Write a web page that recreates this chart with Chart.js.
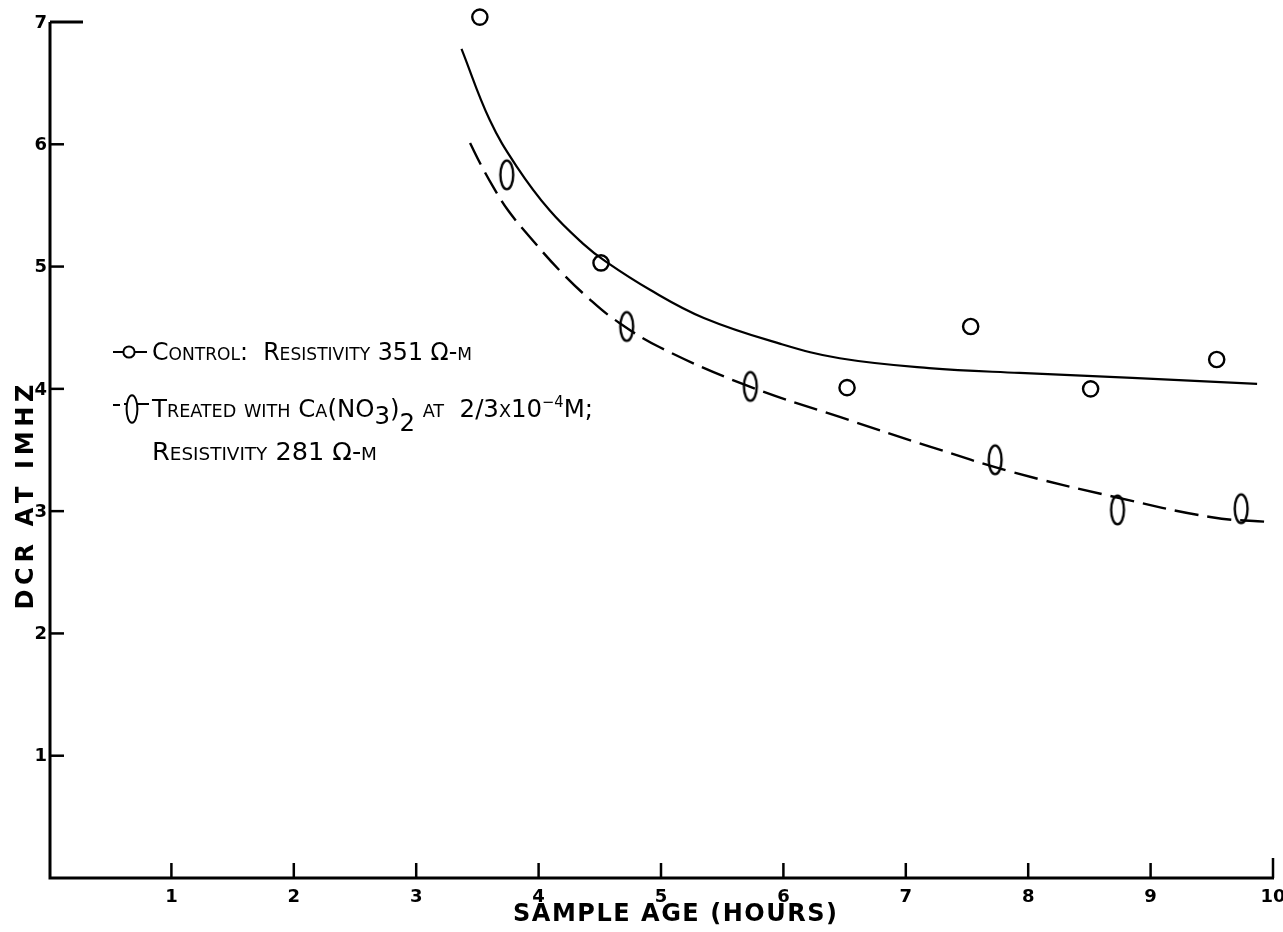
<!DOCTYPE html>
<html>
<head>
<meta charset="utf-8">
<title>DCR vs sample age</title>
<script src="https://cdn.jsdelivr.net/npm/chart.js@4.4.1/dist/chart.umd.min.js"></script>
<style>
  html, body { margin: 0; padding: 0; background: #fff; }
  canvas { display: block; }
</style>
</head>
<body>
<canvas id="c" width="1283" height="932"></canvas>
<script>
// Measured points: sample age (hours) vs DCR at 1 MHz
const controlAge = [3.52, 4.51, 6.52, 7.53, 8.51, 9.54];
const controlDcr = [7.04, 5.03, 4.01, 4.51, 4.00, 4.24];
const treatedAge = [3.74, 4.72, 5.73, 7.73, 8.73, 9.74];
const treatedDcr = [5.75, 4.51, 4.02, 3.42, 3.01, 3.02];

// Hand-faired trend curves through each series
const controlCurveAge = [3.37, 3.60, 3.82, 4.09, 4.36, 4.55, 4.91, 5.35, 5.97, 6.46, 7.19, 7.93, 8.85, 9.87];
const controlCurveDcr = [6.78, 6.20, 5.82, 5.46, 5.19, 5.04, 4.81, 4.58, 4.37, 4.25, 4.17, 4.13, 4.09, 4.04];
const treatedCurveAge = [3.44, 3.53, 3.63, 3.75, 3.93, 4.17, 4.42, 4.63, 4.99, 5.72, 6.46, 7.19, 7.87, 8.69, 9.50, 9.99];
const treatedCurveDcr = [6.01, 5.83, 5.65, 5.46, 5.24, 4.97, 4.73, 4.56, 4.34, 4.02, 3.77, 3.53, 3.32, 3.12, 2.95, 2.91];

// Axis ticks and titles
const xTickValues = [1, 2, 3, 4, 5, 6, 7, 8, 9, 10];
const xTickLabels = ['1', '2', '3', '4', '5', '6', '7', '8', '9', '10'];
const yTickValues = [1, 2, 3, 4, 5, 6, 7];
const yTickLabels = ['1', '2', '3', '4', '5', '6', '7'];
const xTitle = 'SAMPLE AGE (HOURS)';
const yTitle = 'DCR AT IMHZ';

// Key text (lower-case letters are set as small capitals)
const keyControl = [['Control:  Resistivity 351 Ω-m']];
const keyTreated = [['Treated with Ca(NO'], ['3', 'sub'], [')'], ['2', 'sub2'], [' at  2/3x10'], ['−4', 'sup'], ['M;']];
const keyTreated2 = [['Resistivity 281 Ω-m']];

const pts = (xs, ys) => xs.map((x, i) => ({ x: x, y: ys[i] }));

// Upright oval marker for the treated series
const oval = document.createElement('canvas');
oval.width = 20; oval.height = 36;
(function () {
  const o = oval.getContext('2d');
  o.lineWidth = 2.4; o.strokeStyle = '#000';
  o.beginPath(); o.ellipse(10, 18, 6.4, 14.4, 0, 0, Math.PI * 2); o.stroke();
})();

const KEY_FONT = "'Liberation Sans Narrow', 'DejaVu Sans Condensed', 'Liberation Sans', sans-serif";
const BOLD_FONT = "'DejaVu Sans', 'Liberation Sans', sans-serif";

function richRuns(segs, cap) {
  const runs = [];
  segs.forEach(([txt, mode]) => {
    if (mode === 'sub') { runs.push({ t: txt, size: cap, dy: 7 }); return; }
    if (mode === 'sub2') { runs.push({ t: txt, size: cap, dy: 14 }); return; }
    if (mode === 'sup') { runs.push({ t: txt, size: cap * 0.6, dy: -10 }); return; }
    let cur = null;
    for (const ch of txt) {
      const small = /[a-z]/.test(ch);
      const size = small ? cap * 0.72 : cap;
      const t = small ? ch.toUpperCase() : ch;
      if (cur && cur.size === size) cur.t += t;
      else { cur = { t: t, size: size, dy: 0 }; runs.push(cur); }
    }
  });
  return runs;
}

function drawRich(ctx, segs, x, baseline, width, cap) {
  const runs = richRuns(segs, cap);
  let total = 0;
  runs.forEach(r => { ctx.font = r.size + 'px ' + KEY_FONT; r.w = ctx.measureText(r.t).width; total += r.w; });
  ctx.save();
  ctx.translate(x, baseline);
  ctx.scale(width / total, 1);
  ctx.textBaseline = 'alphabetic';
  ctx.textAlign = 'left';
  let cx = 0;
  runs.forEach(r => { ctx.font = r.size + 'px ' + KEY_FONT; ctx.fillText(r.t, cx, r.dy); cx += r.w; });
  ctx.restore();
}

function drawSpaced(ctx, text, cx, cy, width, font) {
  ctx.font = font;
  const chars = [...text];
  const ws = chars.map(c => ctx.measureText(c).width);
  const natural = ws.reduce((a, b) => a + b, 0);
  const gap = (width - natural) / (chars.length - 1);
  let x = cx - width / 2;
  ctx.textAlign = 'left';
  ctx.textBaseline = 'middle';
  chars.forEach((c, i) => { ctx.fillText(c, x, cy); x += ws[i] + gap; });
}

const paper = {
  id: 'paper',
  beforeDatasetsDraw(chart) {
    const ctx = chart.ctx, xs = chart.scales.x, ys = chart.scales.y;
    const ax = xs.getPixelForValue(0) + 1;
    const ay = ys.getPixelForValue(0);
    const xEnd = xs.getPixelForValue(10);
    ctx.save();
    ctx.strokeStyle = '#000'; ctx.fillStyle = '#000';
    ctx.lineWidth = 3;
    ctx.beginPath();
    ctx.moveTo(ax, ys.getPixelForValue(7));
    ctx.lineTo(ax, ay);
    ctx.lineTo(xEnd + 1, ay);
    ctx.stroke();
    // y ticks drawn inward; the top one runs longer
    yTickValues.forEach((v, i) => {
      const y = ys.getPixelForValue(v);
      ctx.lineWidth = v === 7 ? 3 : 2.5;
      ctx.beginPath(); ctx.moveTo(ax, y); ctx.lineTo(ax + (v === 7 ? 33 : 14), y); ctx.stroke();
      ctx.font = 'bold 18px ' + BOLD_FONT;
      ctx.textAlign = 'right'; ctx.textBaseline = 'middle';
      ctx.fillText(yTickLabels[i], 47, y + 1);
    });
    xTickValues.forEach((v, i) => {
      const x = xs.getPixelForValue(v);
      ctx.lineWidth = 2.5;
      ctx.beginPath(); ctx.moveTo(x, ay); ctx.lineTo(x, ay - (v === 10 ? 20 : 15)); ctx.stroke();
      ctx.font = 'bold 18px ' + BOLD_FONT;
      ctx.textAlign = 'center'; ctx.textBaseline = 'middle';
      ctx.fillText(xTickLabels[i], x, 897);
    });
    ctx.restore();
  },
  afterDraw(chart) {
    const ctx = chart.ctx;
    ctx.save();
    ctx.fillStyle = '#000'; ctx.strokeStyle = '#000';
    // axis titles
    drawSpaced(ctx, xTitle, 675, 915, 324, 'bold 24px ' + BOLD_FONT);
    ctx.save();
    ctx.translate(27, 497);
    ctx.rotate(-Math.PI / 2);
    drawSpaced(ctx, yTitle, 0, 0, 225, 'bold 24px ' + BOLD_FONT);
    ctx.restore();

    // key: control
    ctx.lineWidth = 2;
    ctx.beginPath(); ctx.moveTo(113, 352); ctx.lineTo(147, 352); ctx.stroke();
    ctx.fillStyle = '#fff';
    ctx.beginPath(); ctx.arc(129, 352, 5.6, 0, Math.PI * 2); ctx.fill(); ctx.stroke();
    ctx.fillStyle = '#000';
    drawRich(ctx, keyControl, 152, 360, 320, 25);

    // key: treated
    ctx.beginPath(); ctx.moveTo(113, 405); ctx.lineTo(120, 405); ctx.stroke();
    ctx.beginPath(); ctx.moveTo(124, 404); ctx.lineTo(149, 404); ctx.stroke();
    ctx.fillStyle = '#fff';
    ctx.beginPath(); ctx.ellipse(132, 409, 5.4, 13.8, 0, 0, Math.PI * 2); ctx.fill(); ctx.stroke();
    ctx.fillStyle = '#000';
    drawRich(ctx, keyTreated, 152, 417, 441, 25);
    drawRich(ctx, keyTreated2, 152, 460, 225, 25);
    ctx.restore();
  }
};

new Chart(document.getElementById('c'), {
  type: 'scatter',
  data: {
    datasets: [
      {
        label: 'Control curve',
        data: pts(controlCurveAge, controlCurveDcr),
        showLine: true, borderColor: '#000', borderWidth: 2.2,
        pointRadius: 0, tension: 0.4, fill: false, clip: false
      },
      {
        label: 'Treated curve',
        data: pts(treatedCurveAge, treatedCurveDcr),
        showLine: true, borderColor: '#000', borderWidth: 2.4, borderDash: [24, 9],
        pointRadius: 0, tension: 0.4, fill: false, clip: false
      },
      {
        label: 'Control',
        data: pts(controlAge, controlDcr),
        showLine: false, pointStyle: 'circle', pointRadius: 7.6,
        pointBorderWidth: 2.4, pointBorderColor: '#000',
        pointBackgroundColor: 'rgba(255,255,255,0)', clip: false
      },
      {
        label: 'Treated',
        data: pts(treatedAge, treatedDcr),
        showLine: false, pointStyle: oval, pointRadius: 8, clip: false
      }
    ]
  },
  options: {
    responsive: false,
    animation: false,
    devicePixelRatio: 1,
    events: [],
    layout: { padding: { left: 49, right: 9, top: 22, bottom: 54 } },
    scales: {
      x: { type: 'linear', min: 0, max: 10, display: false },
      y: { type: 'linear', min: 0, max: 7, display: false }
    },
    plugins: { legend: { display: false }, tooltip: { enabled: false } }
  },
  plugins: [paper]
});
</script>
</body>
</html>
